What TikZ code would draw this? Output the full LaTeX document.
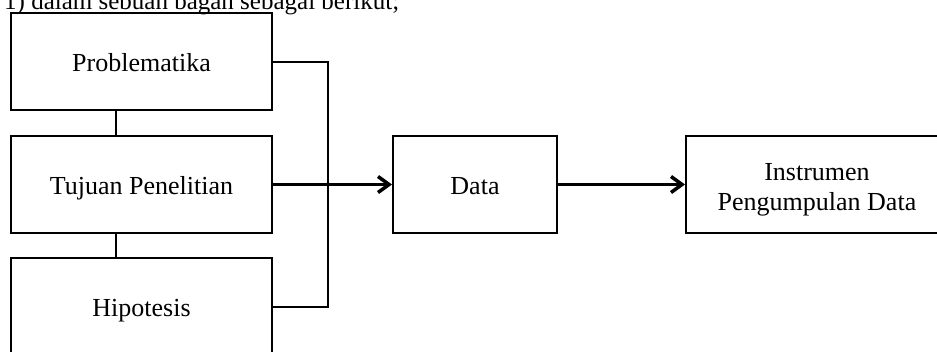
\documentclass[tikz,border=0pt]{standalone}
\usepackage{fontspec}
\setmainfont{Liberation Serif}
\usetikzlibrary{
	positioning,
	arrows.meta
}
\tikzset{
	node distance=24pt and 119pt,
	box/.style={
		draw,
		line width=2pt,
		minimum height=97pt,
		text height=19pt,
		text depth=0pt,
		align=center,
		font=\fontsize{26}{30}\selectfont
	},
	link/.style={
		line width=2pt
	},
	flow/.style={
		line width=3.5pt,
		-{Straight Barb[length=11pt,width=16pt]}
	}
}

\begin{document}
\begin{tikzpicture}[x=1pt,y=-1pt]
		\clip (0,0) rectangle (937,351);
		\node[anchor=base west,inner sep=0pt,font=\fontsize{25}{30}\selectfont] (intro) at (4,9)
			{1) dalam sebuah bagan sebagai berikut;};
		\draw
			node[box,minimum width=261pt]                     (prob)   at (141.5,61.5) {Problematika}
			node[box,minimum width=261pt,below=of prob]       (tujuan) {Tujuan Penelitian}
			node[box,minimum width=261pt,below=23pt of tujuan] (hipo)   {Hipotesis}
			node[box,minimum width=164pt,right=of tujuan]     (data)   {Data}
			node[box,minimum width=262pt,text height=51pt,right=127pt of data] (instr) {Instrumen\\Pengumpulan Data}
		;
		\coordinate (join) at (328,184.5);
		% garis penghubung
		\draw[link] ([xshift=-25.5pt]prob.south) -- ([xshift=-25.5pt]tujuan.north);
		\draw[link] ([xshift=-25.5pt]tujuan.south) -- ([xshift=-25.5pt]hipo.north);
		\draw[link] (prob.east) -| (join) |- (hipo.east);
		% panah
		\draw[flow] (tujuan) -- (data);
		\draw[flow] (data) -- (instr);
	\end{tikzpicture}
\end{document}
